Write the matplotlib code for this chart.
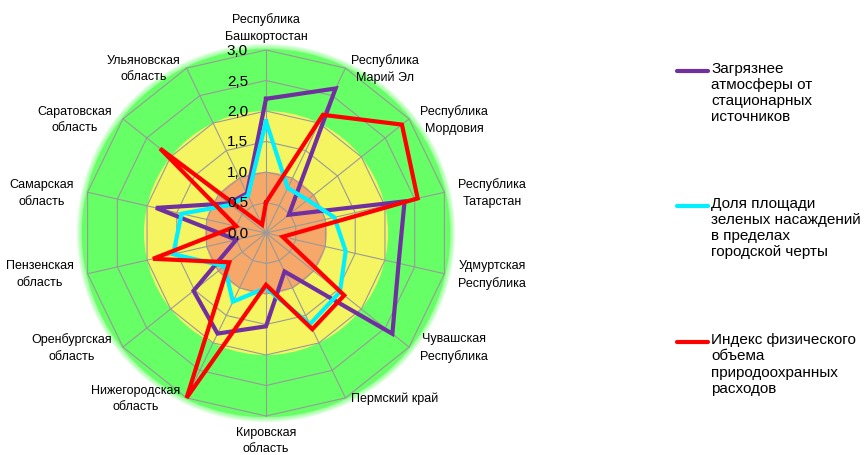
import numpy as np
import matplotlib
matplotlib.use("Agg")
import matplotlib.pyplot as plt
from matplotlib.patches import Circle, Polygon
from matplotlib.lines import Line2D

# ---------------- data ----------------
categories = [
    "Республика\nБашкортостан", "Республика\nМарий Эл", "Республика\nМордовия",
    "Республика\nТатарстан", "Удмуртская\nРеспублика", "Чувашская\nРеспублика",
    "Пермский край", "Кировская\nобласть", "Нижегородская\nобласть",
    "Оренбургская\nобласть", "Пензенская\nобласть", "Самарская\nобласть",
    "Саратовская\nобласть", "Ульяновская\nобласть",
]
pollution = [2.20, 2.63, 0.48, 2.33, 2.23, 2.65, 0.70, 1.53, 1.83, 1.52, 0.50, 1.85, 0.78, 0.72]
green_share = [1.83, 0.82, 0.87, 1.15, 1.34, 1.55, 1.66, 0.90, 1.25, 0.87, 1.56, 1.42, 0.74, 0.68]
eco_index = [0.50, 2.15, 2.85, 2.55, 0.28, 1.64, 1.75, 0.85, 3.00, 0.77, 1.90, 0.50, 2.22, 0.15]

series_names = [
    "Загрязнее\nатмосферы от\nстационарных\nисточников",
    "Доля площади\nзеленых насаждений\nв пределах\nгородской черты",
    "Индекс физического\nобъема\nприродоохранных\nрасходов",
]
series_colors = ["#7030A0", "#00F0FF", "#FF0000"]

tick_values = [0.0, 0.5, 1.0, 1.5, 2.0, 2.5, 3.0]
tick_labels = ["0,0", "0,5", "1,0", "1,5", "2,0", "2,5", "3,0"]

band_radii = [3.0, 2.0, 1.0]
band_colors = ["#66FF66", "#F5F562", "#F5A86A"]

# ---------------- figure ----------------
W, H, DPI = 864, 456, 100
cx, cy, unit = 266, 234, 61.0
fig = plt.figure(figsize=(W / DPI, H / DPI), dpi=DPI)
ax = fig.add_axes([0, 0, 1, 1])
ax.set_xlim(-cx / unit, (W - cx) / unit)
ax.set_ylim(-(H - cy) / unit, cy / unit)
ax.axis("off")

n = len(categories)
theta = 2 * np.pi * np.arange(n) / n
sx, sy = np.sin(theta), np.cos(theta)
rmax = max(tick_values)

# background bands (green with soft glow)
for k in range(5):
    ax.add_patch(Circle((0, 0), band_radii[0] + 0.10 - 0.018 * k,
                        facecolor=band_colors[0], edgecolor="none", alpha=0.18, zorder=1))
ax.add_patch(Circle((0, 0), band_radii[0] + 0.02, facecolor=band_colors[0],
                    edgecolor="none", zorder=1.1))
for r, c in zip(band_radii[1:], band_colors[1:]):
    ax.add_patch(Circle((0, 0), r, facecolor=c, edgecolor="none", zorder=1.2))

# polygon grid and spokes
for v in tick_values[1:]:
    ax.add_patch(Polygon(np.column_stack([v * sx, v * sy]), closed=True, fill=False,
                         edgecolor="#9A9A9A", lw=0.8, zorder=2))
for i in range(n):
    ax.plot([0, rmax * sx[i]], [0, rmax * sy[i]], color="#9A9A9A", lw=0.8, zorder=2)

# series
for vals, col in zip([pollution, green_share, eco_index], series_colors):
    v = np.array(vals + vals[:1])
    ang = np.append(theta, theta[0])
    ax.plot(v * np.sin(ang), v * np.cos(ang), color=col, lw=3.0,
            solid_joinstyle="miter", zorder=3)

# radial tick labels
for v, t in zip(tick_values, tick_labels):
    ax.text(-18 / unit, v, t, ha="right", va="center", fontsize=11,
            family=["Liberation Sans", "DejaVu Sans"], zorder=5)

# category labels
lab_kw = dict(fontsize=9, family=["Liberation Sans", "DejaVu Sans"],
              multialignment="center", linespacing=1.5)
for i, lab in enumerate(categories):
    x, y = rmax * sx[i], rmax * sy[i]
    if abs(sx[i]) < 1e-6:
        if sy[i] > 0:
            ax.text(0, y + 8 / unit, lab, ha="center", va="bottom", **lab_kw)
        else:
            ax.text(0, y - 10 / unit, lab, ha="center", va="top", **lab_kw)
    else:
        dx = 14 / unit * sx[i]
        ha = "left" if sx[i] > 0 else "right"
        ax.text(x + dx, y, lab, ha=ha, va="center", **lab_kw)

# legend (manual)
leg_y = [71.7, 206.7, 343.3]
for name, col, yp in zip(series_names, series_colors, leg_y):
    yf = 1 - yp / H
    fig.add_artist(Line2D([677 / W, 708 / W], [yf, yf], color=col, lw=3.0,
                          solid_capstyle="round", transform=fig.transFigure))
    fig.text(711 / W, 1 - (yp - 10) / H, name, ha="left", va="top", fontsize=11,
             family=["Liberation Sans", "DejaVu Sans"], linespacing=1.2)

fig.savefig("out.png", dpi=DPI, facecolor="white")
